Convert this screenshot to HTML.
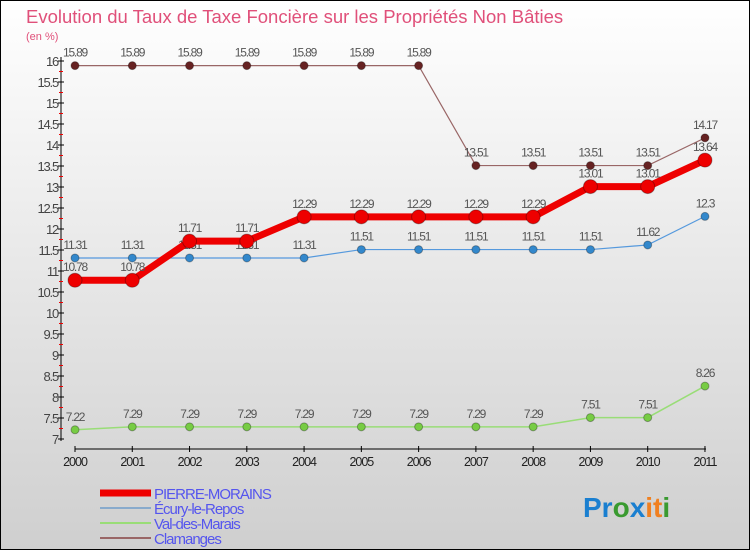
<!DOCTYPE html>
<html><head><meta charset="utf-8"><style>
body{margin:0;width:750px;height:550px;overflow:hidden;font-family:"Liberation Sans",sans-serif}
</style></head><body>
<svg width="750" height="550" xmlns="http://www.w3.org/2000/svg">
<defs><linearGradient id="bg" x1="0" y1="0" x2="0" y2="1"><stop offset="0" stop-color="#ffffff"/><stop offset="1" stop-color="#cfcfcf"/></linearGradient></defs>
<rect x="0.5" y="0.5" width="749" height="549" fill="url(#bg)" stroke="#000"/>
<text x="26" y="23" font-size="18.5" fill="#e0507a">Evolution du Taux de Taxe Foncière sur les Propriétés Non Bâties</text>
<text x="26" y="40" font-size="11" fill="#e0507a">(en %)</text>
<g id="axes"></g><g id="series"></g><g id="legend"></g>
<text x="583" y="517" font-size="28" font-weight="bold"><tspan fill="#1a7fd0">Pr</tspan><tspan fill="#3a9a30">o</tspan><tspan fill="#1a7fd0">x</tspan><tspan fill="#f08020">i</tspan><tspan fill="#f08020">t</tspan><tspan fill="#3a9a30">i</tspan></text>
</svg>
<script>
const years=["2000","2001","2002","2003","2004","2005","2006","2007","2008","2009","2010","2011"];
const pierre=[10.78,10.78,11.71,11.71,12.29,12.29,12.29,12.29,12.29,13.01,13.01,13.64];
const ecury=[11.31,11.31,11.31,11.31,11.31,11.51,11.51,11.51,11.51,11.51,11.62,12.3];
const valm=[7.22,7.29,7.29,7.29,7.29,7.29,7.29,7.29,7.29,7.51,7.51,8.26];
const clam=[15.89,15.89,15.89,15.89,15.89,15.89,15.89,13.51,13.51,13.51,13.51,14.17];
const yTicks=[7,7.5,8,8.5,9,9.5,10,10.5,11,11.5,12,12.5,13,13.5,14,14.5,15,15.5,16];
const NS="http://www.w3.org/2000/svg";
const X=i=>75+i*57.27, Y=v=>439-(v-7)*42;
function mk(p,t,a){const e=document.createElementNS(NS,t);for(const k in a)e.setAttribute(k,a[k]);p.appendChild(e);return e;}
const ax=document.getElementById('axes');
mk(ax,'line',{x1:61,y1:57,x2:61,y2:441,stroke:'#000'});
mk(ax,'line',{x1:75,y1:449,x2:706,y2:449,stroke:'#000'});
yTicks.forEach(v=>{mk(ax,'line',{x1:58,y1:Y(v),x2:64,y2:Y(v),stroke:'#000'});
 const t=mk(ax,'text',{x:58,y:Y(v)+5,'font-size':13,'text-anchor':'end',fill:'#444','letter-spacing':'-1.2'});t.textContent=v;
 
 if(v<16){[0.25].forEach(o=>mk(ax,'line',{x1:59,y1:Y(v+o),x2:63,y2:Y(v+o),stroke:'#e00'}));}});
years.forEach((y,i)=>{mk(ax,'line',{x1:X(i),y1:446,x2:X(i),y2:452,stroke:'#000'});
 const t=mk(ax,'text',{x:X(i),y:466,'font-size':12.5,'text-anchor':'middle',fill:'#222','letter-spacing':'-1'});t.textContent=y;
 });
const sg=document.getElementById('series');
function series(vals,col,dot,w,r,name){
 const g=mk(sg,'g',{});
 mk(g,'polyline',{points:vals.map((v,i)=>X(i)+','+Y(v)).join(' '),fill:'none',stroke:col,'stroke-width':w});
 vals.forEach((v,i)=>{const c=mk(g,'circle',{cx:X(i),cy:Y(v),r:r,fill:dot,stroke:'rgba(0,0,0,0.3)'});
  
  const t=mk(g,'text',{x:X(i),y:Y(v)-9,'font-size':12,'text-anchor':'middle',fill:'#555','letter-spacing':'-1.2'});t.textContent=v;});
}
series(valm,'#99dd77','#77cc44',1.5,4,'series-val-des-marais');
series(ecury,'#5599dd','#3388cc',1.2,4,'series-ecury-le-repos');
series(clam,'#996666','#662222',1.2,4,'series-clamanges');
series(pierre,'#ee0000','#ee0000',7,7,'series-pierre-morains');
const lg=document.getElementById('legend');
[['PIERRE-MORAINS','#ee0000',7],['Écury-le-Repos','#88aacc',2],['Val-des-Marais','#99dd77',2],['Clamanges','#996666',2]].forEach((e,i)=>{
 const y=493+i*15;const g=mk(lg,'g',{});
 mk(g,'line',{x1:100,y1:y,x2:151,y2:y,stroke:e[1],'stroke-width':e[2]});
 const t=mk(g,'text',{x:154,y:y+6,'font-size':15,fill:'#5555ee','letter-spacing':'-1'});t.textContent=e[0];});
</script>
</body></html>
